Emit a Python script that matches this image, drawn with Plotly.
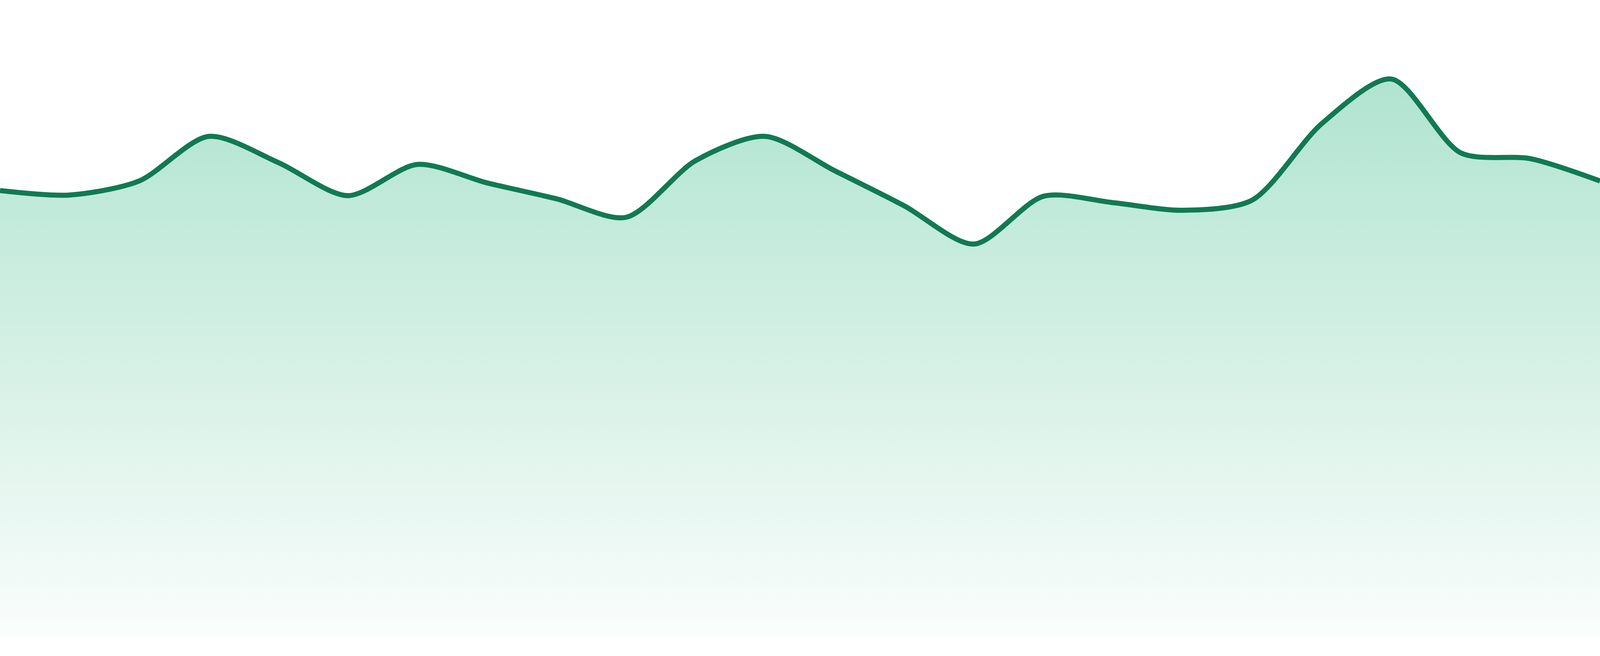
import plotly.graph_objects as go

# point index along the x axis
steps = list(range(24))
# series values (axis 0..100)
values = [70.1, 69.4, 71.6, 78.6, 74.5, 69.3, 74.2, 71.3, 68.8, 65.9, 74.8, 78.6,
          73.2, 67.7, 61.7, 69.2, 68.2, 67.0, 68.6, 80.6, 87.6, 76.0, 75.1, 71.6]

line_col = '#117a52'

fig = go.Figure()
fig.add_trace(go.Scatter(
    x=steps, y=values, mode='lines',
    line=dict(color=line_col, width=13, shape='spline', smoothing=0.8),
    fill='tozeroy',
    fillgradient=dict(type='vertical', start=0, stop=max(values),
                      colorscale=[[0, 'rgb(250,253,252)'], [1, 'rgb(176,228,207)']]),
    hoverinfo='skip', showlegend=False))

# chart fills the whole window, small white strip under the area
fig.update_layout(autosize=True,
                  margin=dict(l=0, r=0, t=0, b=0, pad=0),
                  plot_bgcolor='white', paper_bgcolor='white',
                  xaxis=dict(range=[0, 23], visible=False, showgrid=False, zeroline=False),
                  yaxis=dict(range=[0, 100], domain=[48 / 1680, 1], visible=False,
                             showgrid=False, zeroline=False))

fix_page = ("document.body.style.margin='0';document.body.style.overflow='hidden';"
            "Plotly.Plots.resize(document.getElementById('{plot_id}'));")

fig.write_html("out.html", default_width='100vw', default_height='100vh',
               config={'responsive': True, 'displayModeBar': False},
               post_script=fix_page)
